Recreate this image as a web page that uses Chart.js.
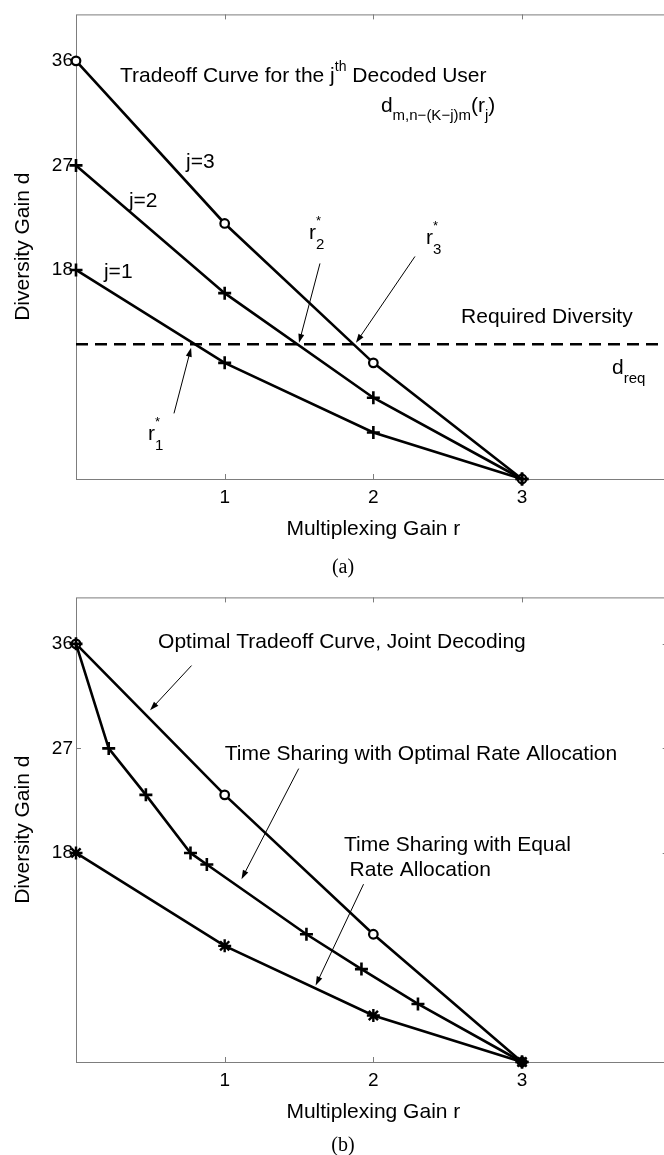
<!DOCTYPE html>
<html>
<head>
<meta charset="utf-8">
<script src="https://cdn.jsdelivr.net/npm/chart.js@4.4.0/dist/chart.umd.min.js"></script>
<style>
  html, body { margin: 0; padding: 0; background: #fff; overflow: hidden; }
  #wrap { position: relative; width: 664px; height: 1155px; overflow: hidden; }
  canvas { position: absolute; left: 0; }
  #chartA { top: 0; }
  #chartB { top: 583px; }
</style>
</head>
<body>
<div id="wrap">
  <canvas id="chartA" width="700" height="583"></canvas>
  <canvas id="chartB" width="700" height="572"></canvas>
</div>
<script>
// ---- data, panel (a): tradeoff curve of the j-th decoded user
const rPoints = [0, 1, 2, 3];
const dUser3 = [36, 22, 10, 0];
const dUser2 = [27, 16, 7, 0];
const dUser1 = [18, 10, 4, 0];
const dRequired = 11.6;

// ---- data, panel (b)
const dJoint = [36, 23, 11, 0];
const rTimeShareOpt = [0, 0.22, 0.47, 0.77, 0.88, 1.55, 1.92, 2.3, 3];
const dTimeShareOpt = [36, 27, 23, 18, 17, 11, 8, 5, 0];
const dEqualRate = [18, 10, 4, 0];

const xTicks = [1, 2, 3];
const yTicks = [18, 27, 36];
const xRange = [0, 4];
const yRange = [0, 40];

const SANS = '"Liberation Sans", Arial, Helvetica, sans-serif';
const SERIF = '"Liberation Serif", "Times New Roman", serif';

const pts = (xs, ys) => xs.map((x, i) => ({x: x, y: ys[i]}));

function drawParts(ctx, x, y, parts) {
  let cx = x;
  parts.forEach(p => {
    const [text, size, dy, stay] = p;
    ctx.font = size + 'px ' + SANS;
    ctx.fillText(text, cx, y + (dy || 0));
    if (!stay) cx += ctx.measureText(text).width;
  });
}

function drawArrow(ctx, x1, y1, x2, y2) {
  const ang = Math.atan2(y2 - y1, x2 - x1);
  const len = 9, half = 3;
  ctx.lineWidth = 1;
  ctx.beginPath();
  ctx.moveTo(x1, y1);
  ctx.lineTo(x2 - Math.cos(ang) * len * 0.8, y2 - Math.sin(ang) * len * 0.8);
  ctx.stroke();
  ctx.beginPath();
  ctx.moveTo(x2, y2);
  ctx.lineTo(x2 - Math.cos(ang) * len - Math.sin(ang) * half, y2 - Math.sin(ang) * len + Math.cos(ang) * half);
  ctx.lineTo(x2 - Math.cos(ang) * len + Math.sin(ang) * half, y2 - Math.sin(ang) * len - Math.cos(ang) * half);
  ctx.closePath();
  ctx.fill();
}

// frame with inward ticks, text labels and arrows
const framePlugin = {
  id: 'frame',
  beforeDatasetsDraw(chart, args, opts) {
    const {ctx, chartArea: a, scales: {x, y}} = chart;
    ctx.save();
    ctx.strokeStyle = '#7d7d7d';
    ctx.lineWidth = 1;
    ctx.strokeRect(a.left + 0.5, a.top + 0.5, a.right - a.left, a.bottom - a.top);
    ctx.beginPath();
    xTicks.forEach(v => {
      const px = Math.round(x.getPixelForValue(v)) + 0.5;
      ctx.moveTo(px, a.top); ctx.lineTo(px, a.top + 5);
      ctx.moveTo(px, a.bottom); ctx.lineTo(px, a.bottom - 5);
    });
    yTicks.forEach(v => {
      const py = Math.round(y.getPixelForValue(v)) + 0.5;
      ctx.moveTo(a.left, py); ctx.lineTo(a.left + 5, py);
      ctx.moveTo(a.right, py); ctx.lineTo(a.right - (opts.rightTick || 5), py);
    });
    ctx.stroke();
    ctx.restore();
  },
  afterDraw(chart, args, opts) {
    const {ctx, chartArea: a, scales: {x, y}} = chart;
    ctx.save();
    ctx.fillStyle = '#000';
    ctx.strokeStyle = '#000';
    ctx.textAlign = 'left';
    ctx.textBaseline = 'alphabetic';
    (opts.texts || []).forEach(t => {
      drawParts(ctx, x.getPixelForValue(t.x), y.getPixelForValue(t.y), t.parts);
    });
    (opts.arrows || []).forEach(ar => {
      drawArrow(ctx, x.getPixelForValue(ar.from[0]), y.getPixelForValue(ar.from[1]),
                x.getPixelForValue(ar.to[0]), y.getPixelForValue(ar.to[1]));
    });
    if (opts.caption) {
      ctx.font = '20px ' + SERIF;
      ctx.textAlign = 'center';
      ctx.textBaseline = 'middle';
      ctx.fillText(opts.caption.text, x.getPixelForValue(opts.caption.x), a.bottom + opts.caption.below);
    }
    ctx.restore();
  }
};

function lineSet(data, style, radius, extra) {
  return Object.assign({
    data: data,
    borderColor: '#000',
    borderWidth: 2.6,
    tension: 0,
    fill: false,
    clip: false,
    pointStyle: style,
    pointRadius: radius,
    pointHoverRadius: radius,
    pointBorderColor: '#000',
    pointBackgroundColor: '#fff',
    pointBorderWidth: 2.2
  }, extra || {});
}

function makeChart(id, height, datasets, annot) {
  return new Chart(document.getElementById(id), {
    type: 'line',
    data: {datasets: datasets},
    plugins: [framePlugin],
    options: {
      responsive: false,
      animation: false,
      devicePixelRatio: 1,
      clip: false,
      layout: {padding: {left: 0, top: 12, right: 29.3, bottom: height - 479 - 70}},
      plugins: {
        legend: {display: false},
        tooltip: {enabled: false},
        frame: annot
      },
      scales: {
        x: {
          type: 'linear', min: xRange[0], max: xRange[1],
          afterBuildTicks: s => { s.ticks = xTicks.map(v => ({value: v})); },
          afterFit: s => { s.height = 70; },
          grid: {display: false, drawTicks: false},
          border: {display: false},
          ticks: {color: '#000', font: {family: SANS, size: 19}, padding: 7, maxRotation: 0, autoSkip: false},
          title: {display: true, text: 'Multiplexing Gain r', color: '#000',
                  font: {family: SANS, size: 21}, padding: {top: 0, bottom: 7.5}}
        },
        y: {
          type: 'linear', min: yRange[0], max: yRange[1],
          afterBuildTicks: s => { s.ticks = yTicks.map(v => ({value: v})); },
          afterFit: s => { s.width = 76; },
          grid: {display: false, drawTicks: false},
          border: {display: false},
          ticks: {color: '#000', font: {family: SANS, size: 19}, padding: 3, autoSkip: false},
          title: {display: true, text: 'Diversity Gain d', color: '#000',
                  font: {family: SANS, size: 21}, padding: {top: 11, bottom: 0}}
        }
      }
    }
  });
}

// panel (a)
makeChart('chartA', 583, [
  lineSet(pts(rPoints, dUser1), 'cross', 6.5, {pointBorderWidth: 2.6}),
  lineSet(pts(rPoints, dUser2), 'cross', 6.5, {pointBorderWidth: 2.6}),
  lineSet(pts(rPoints, dUser3), 'circle', 4.3),
  lineSet(pts(xRange, [dRequired, dRequired]), 'circle', 0, {borderDash: [12, 7], borderWidth: 2.6})
], {
  rightTick: 4,
  texts: [
    {x: 0.296, y: 34.2, parts: [['Tradeoff Curve for the j', 21], ['th', 14, -11], [' Decoded User', 21]]},
    {x: 2.051, y: 31.57, parts: [['d', 21], ['m,n\u2212(K\u2212j)m', 15, 8], ['(r', 21], ['j', 15, 8], [')', 21]]},
    {x: 0.74, y: 26.78, parts: [['j=3', 21]]},
    {x: 0.356, y: 23.44, parts: [['j=2', 21]]},
    {x: 0.188, y: 17.28, parts: [['j=1', 21]]},
    {x: 1.567, y: 20.70, parts: [['r', 21], ['*', 13, -14, true], ['2', 15, 10]]},
    {x: 2.354, y: 20.27, parts: [['r', 21], ['*', 13, -14, true], ['3', 15, 10]]},
    {x: 0.484, y: 3.34, parts: [['r', 21], ['*', 13, -14, true], ['1', 15, 10]]},
    {x: 2.590, y: 13.39, parts: [['Required Diversity', 21]]},
    {x: 3.605, y: 9.07, parts: [['d', 21], ['req', 15, 9]]}
  ],
  arrows: [
    {from: [0.659, 5.65], to: [0.774, 11.29]},
    {from: [1.641, 18.56], to: [1.50, 11.72]},
    {from: [2.280, 19.16], to: [1.883, 11.72]}
  ],
  caption: {text: '(a)', x: 1.796, below: 89}
});

// panel (b)
makeChart('chartB', 572, [
  lineSet(pts(rPoints, dEqualRate), 'star', 6.5, {pointBorderWidth: 2.4}),
  lineSet(pts(rTimeShareOpt, dTimeShareOpt), 'cross', 6.5, {pointBorderWidth: 2.6}),
  lineSet(pts(rPoints, dJoint), 'circle', 4.3)
], {
  rightTick: 8,
  texts: [
    {x: 0.552, y: 35.67, parts: [['Optimal Tradeoff Curve, Joint Decoding', 21]]},
    {x: 1.0, y: 26.0, parts: [['Time Sharing with Optimal Rate Allocation', 21]]},
    {x: 1.803, y: 18.18, parts: [['Time Sharing with Equal', 21]]},
    {x: 1.840, y: 16.04, parts: [['Rate Allocation', 21]]}
  ],
  arrows: [
    {from: [0.777, 34.13], to: [0.498, 30.28]},
    {from: [1.498, 25.26], to: [1.113, 15.74]},
    {from: [1.934, 15.31], to: [1.612, 6.59]}
  ],
  caption: {text: '(b)', x: 1.796, below: 84}
});
</script>
</body>
</html>
